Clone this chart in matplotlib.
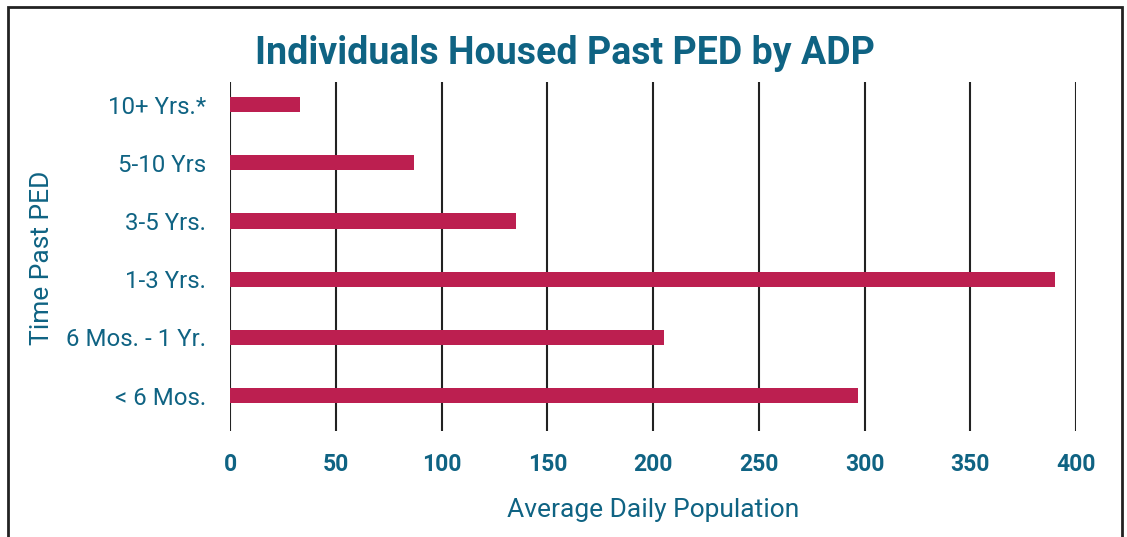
'''
Individuals Housed Past PED by ADP
'''

import matplotlib.pyplot as plt
from matplotlib.patches import Rectangle

categories = ['< 6 Mos.', '6 Mos. - 1 Yr.', '1-3 Yrs.', '3-5 Yrs.', '5-10 Yrs', '10+ Yrs.*']
adp = [297, 205, 390, 135, 87, 33]
xticks = [0, 50, 100, 150, 200, 250, 300, 350, 400]

teal = '#0F6383'
bar_color = '#BC1F50'

plt.rcParams['font.family'] = ['Roboto', 'DejaVu Sans']

fig = plt.figure(figsize=(11.27, 5.37), dpi=100)
ax = fig.add_axes([230/1127, 106/537, 846/1127, 349/537])

ypos = list(range(len(categories)))
ax.barh(ypos, adp, height=0.26, color=bar_color, zorder=3)

ax.set_xlim(0, 400)
ax.set_ylim(-0.61, 5.39)
ax.set_xticks(xticks)
ax.set_xticklabels([str(t) for t in xticks], fontsize=16.5, fontweight='bold', color=teal)
ax.set_yticks(ypos)
ax.set_yticklabels(categories, fontsize=17.3, color=teal)
ax.tick_params(length=0, pad=17)
ax.tick_params(axis='x', pad=16)

ax.grid(axis='x', color='#222222', linewidth=1.5, zorder=1)
for s in ax.spines.values():
	s.set_visible(False)

ax.set_xlabel('Average Daily Population', fontsize=19, color=teal, labelpad=16)
fig.text(42/1127, 1-258/537, 'Time Past PED', rotation=90, fontsize=19, color=teal,
		 ha='center', va='center')
fig.text(565/1127, 1-53/537, 'Individuals Housed Past PED by ADP', fontsize=27,
		 fontweight='bold', color=teal, ha='center', va='center')

fig.patches.append(Rectangle((8/1127, -0.05), 1114/1127, 1.05-7/537, transform=fig.transFigure,
							 fill=False, edgecolor='#222222', linewidth=2))

plt.savefig('out.png', dpi=100)
